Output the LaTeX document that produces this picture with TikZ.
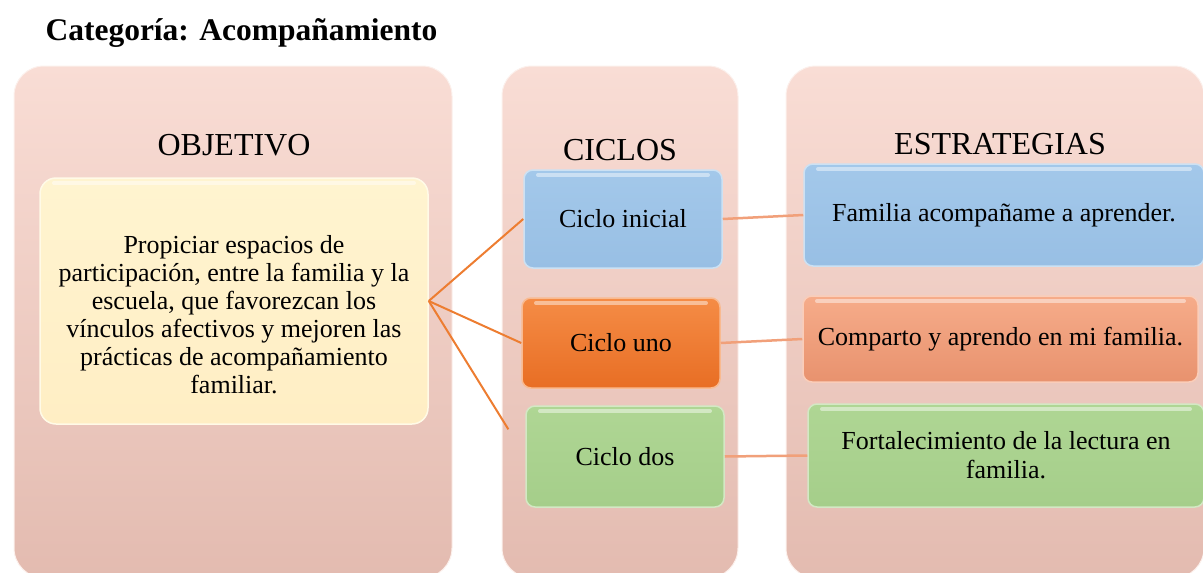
\documentclass[tikz,border=0pt]{standalone}
\usepackage{fontspec}
\setmainfont{Liberation Serif}
\usetikzlibrary{positioning}
\definecolor{panelTop}{RGB}{249,221,213}
\definecolor{panelBot}{RGB}{227,187,176}
\definecolor{creamTop}{RGB}{255,244,208}
\definecolor{creamBot}{RGB}{255,238,196}
\definecolor{blueTop}{RGB}{163,200,234}
\definecolor{blueBot}{RGB}{152,191,228}
\definecolor{orangeTop}{RGB}{245,140,70}
\definecolor{orangeBot}{RGB}{232,110,36}
\definecolor{greenTop}{RGB}{175,214,148}
\definecolor{greenBot}{RGB}{165,206,138}
\definecolor{salmonTop}{RGB}{246,172,138}
\definecolor{salmonBot}{RGB}{232,146,110}
\definecolor{lineOrange}{RGB}{237,125,49}
\definecolor{lineSalmon}{RGB}{241,160,122}

\begin{document}
\begin{tikzpicture}[x=1pt, y=-1pt,
  panel/.style={rounded corners=30pt, top color=panelTop, bottom color=panelBot,
    draw=white!55!panelTop, line width=1pt, inner sep=0pt},
  head/.style={font=\fontsize{32}{36}\selectfont, anchor=base},
  bevel/.style={path picture={\draw[white, opacity=0.45, line width=4pt, line cap=round]
    ([xshift=14pt,yshift=-5pt]path picture bounding box.north west) --
    ([xshift=-14pt,yshift=-5pt]path picture bounding box.north east);}},
  card/.style={bevel, rounded corners=9pt, inner sep=0pt, line width=1.5pt,
    font=\fontsize{26}{29}\selectfont, align=center},
  bluecard/.style={card, top color=blueTop, bottom color=blueBot, draw=white!45!blueTop},
  orangecard/.style={card, top color=orangeTop, bottom color=orangeBot, draw=white!40!orangeTop},
  greencard/.style={card, top color=greenTop, bottom color=greenBot, draw=white!45!greenTop},
  salmoncard/.style={card, top color=salmonTop, bottom color=salmonBot, draw=white!40!salmonTop},
  leftlink/.style={lineOrange, line width=2pt},
  rightlink/.style={lineSalmon, line width=2.5pt}]
  \useasboundingbox (0,0) rectangle (1203,573);

  \node[anchor=base west, font=\bfseries\fontsize{31.5}{36}\selectfont] (title) at (42,40) {Categoría: Acompañamiento};

  \node[panel, minimum width=438pt, minimum height=512pt] (panObj) at (233,322) {};
  \node[panel, minimum width=236pt, minimum height=512pt] (panCic) at (620,322) {};
  \node[panel, minimum width=418pt, minimum height=512pt] (panEst) at (995,322) {};

  \node[head] (hObj) at (234,155) {OBJETIVO};
  \node[head] (hCic) at (620,160) {CICLOS};
  \node[head] (hEst) at (1000,154) {ESTRATEGIAS};

  \node[card, top color=creamTop, bottom color=creamBot, draw=white!50!creamTop,
    rounded corners=16pt, minimum width=388pt, minimum height=246pt] (obj) at (234,301) {};
  \node[font=\fontsize{26}{28}\selectfont, align=center] (objTxt) at (234,315)
    {Propiciar espacios de\\ participación, entre la familia y la\\ escuela, que favorezcan los\\
     vínculos afectivos y mejoren las\\ prácticas de acompañamiento\\ familiar.};

  \node[bluecard, minimum width=198pt, minimum height=98pt] (cInicial) at (623,219) {Ciclo inicial};
  \node[orangecard, minimum width=198pt, minimum height=90pt] (cUno) at (621,343) {Ciclo uno};
  \node[greencard, minimum width=198pt, minimum height=101pt] (cDos) at (625,456.5) {Ciclo dos};

  \node[bluecard, minimum width=400pt, minimum height=102pt] (eFamilia) at (1004,215) {Familia acompañame a aprender.};
  \node[salmoncard, minimum width=395pt, minimum height=86pt] (eComparto) at (1000.5,339) {Comparto y aprendo en mi familia.};
  \node[greencard, minimum width=396pt, minimum height=103pt] (eLectura) at (1006,455.5) {Fortalecimiento de la lectura en\\ familia.};

  \draw[leftlink] (obj.east) -- (cInicial.west);
  \draw[leftlink] (obj.east) -- (cUno.west);
  \draw[leftlink, shorten >=32pt] (obj.east) -- (cDos.west);
  \draw[rightlink] (cInicial.east) -- (eFamilia.west);
  \draw[rightlink] (cUno.east) -- (eComparto.west);
  \draw[rightlink] (cDos.east) -- (eLectura.west);
\end{tikzpicture}
\end{document}
